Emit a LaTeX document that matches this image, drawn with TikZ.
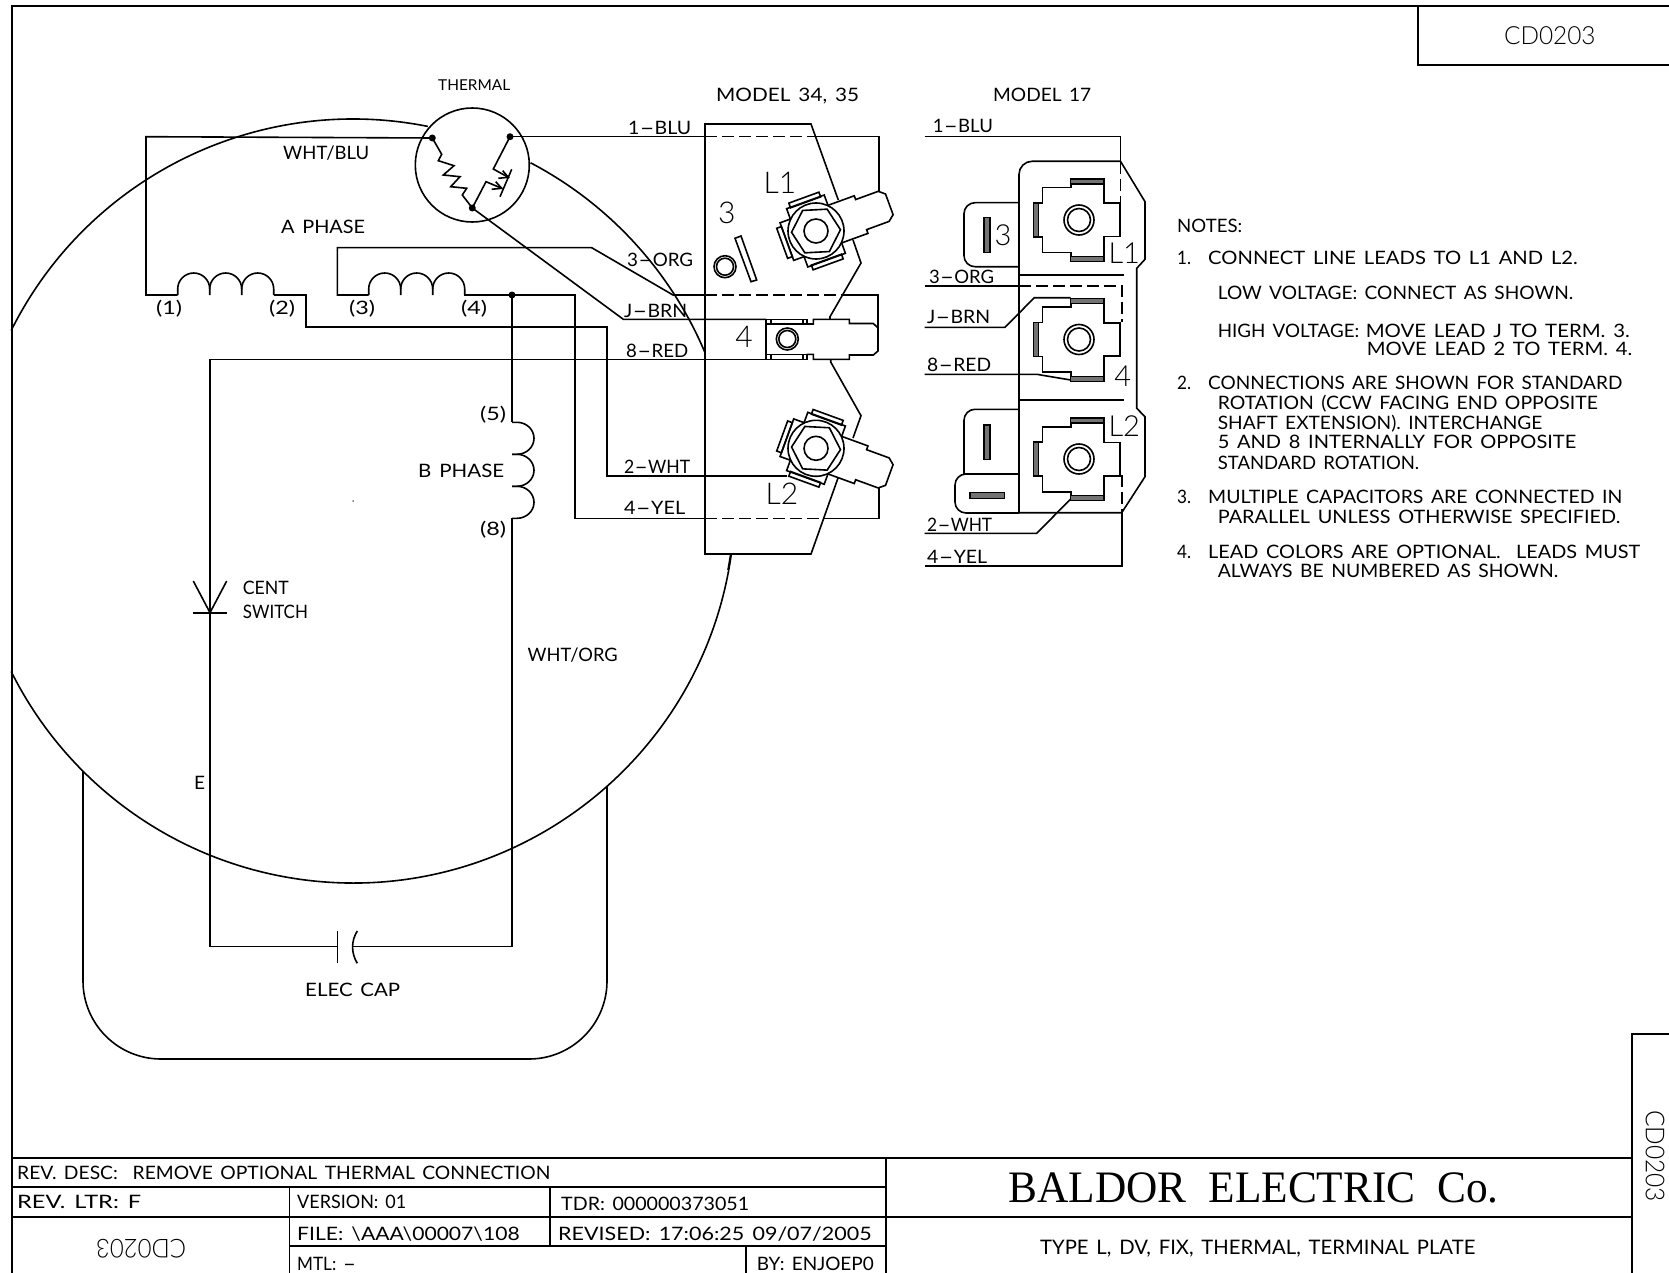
\documentclass[tikz,border=0pt]{standalone}
\usepackage{graphicx}
\usepackage{fontspec}
\setmainfont{Lato}[WordSpace=1.5]
\newfontfamily\lightf{Lato Light}
\newfontfamily\serifttl{Liberation Serif}
\usetikzlibrary{calc}
\newlength\tw
\newcommand\hy{\scalebox{2.1}[1]{-}}
\newcommand\fitw[2]{\settowidth\tw{#2}\pgfmathsetmacro\rr{#1/\tw}\scalebox{\rr}[1]{#2}}
\newcommand\lbl[5]{\node[lb] (#1) at (#2,#3+7.1) {\fitw{#4}{#5}};}
\newcommand\fsA{\fontsize{18.5}{20}\selectfont}
\newcommand\termpin[4]{%
 \begin{scope}[shift={(#1,#2)},rotate=#3]
  \draw[wire] (20,-20)--(48,-20)--(48,-16)--(72,-16)--(78,-11)--(78,11)--(72,16)--(48,16)--(48,20)--(20,20);
  \draw[wire] (20,-20)--(20,-31)--(-20,-31)--(-20,-20)--(-31,-20)--(-31,20)--(-20,20)--(-20,31)--(20,31)--(20,20);
  \draw[wire] (-16,-30.5) rectangle (16,-35.5);
  \draw[wire] (-16,30.5) rectangle (16,35.5);
  \draw[wire] (-31,-16) rectangle (-36,16);
 \end{scope}
 \begin{scope}[shift={(#1,#2)},rotate=#4]
  \draw[wire] (0:24.5)--(60:24.5)--(120:24.5)--(180:24.5)--(240:24.5)--(300:24.5)--cycle;
 \end{scope}
 \draw[wire] (#1,#2) circle[radius=28];
 \draw[wire] (#1,#2) circle[radius=12];
}
\newcommand\clampA[2]{%
 \begin{scope}[shift={(#1,#2)}]
  \draw[wire] (25,-36)--(25,-16.7)--(41,-16.7)--(41,16.7)--(25,16.7)--(25,36.7);
  \draw[wire] (-8.3,36.7)--(-8.3,32.7)--(-36.7,32.7)--(-36.7,17)--(-40.7,17);
  \draw[wire] (-40.7,-17)--(-36.7,-17)--(-36.7,-32.3)--(-8.3,-32.3)--(-8.3,-36);
  \draw[mbar] (-8.3,-41) rectangle (25,-36);
  \draw[mbar] (-8.3,36.7) rectangle (25,41.7);
  \draw[mbar] (-45.7,-17) rectangle (-40.7,17);
  \draw[wire] (0,0) circle[radius=15];
  \draw[wire] (0,0) circle[radius=11.5];
 \end{scope}
}
\tikzset{
 wire/.style={line width=1.6pt,black,line join=miter},
 fr/.style={line width=1.9pt,black},
 dsh/.style={wire,dash pattern=on 12pt off 5pt},
 mbar/.style={line width=1.3pt,draw=black,fill=black!55},
 dot/.style={circle,fill=black,inner sep=0pt,minimum size=7pt},
 lb/.style={anchor=base west,inner sep=0pt,font=\fsA},
 big/.style={inner sep=0pt,font=\lightf\fontsize{30}{30}\selectfont},
 bigm/.style={inner sep=0pt,font=\lightf\fontsize{29}{30}\selectfont},
}
\begin{document}
\begin{tikzpicture}[x=1pt,y=-1pt]
\useasboundingbox (0,0) rectangle (1669,1273);
% frame
\coordinate (fTL) at (12,6);
\draw[fr] (12,1273)--(fTL)--(1669,6);
\draw[fr] (1418,6)--(1418,65)--(1669,65);
\draw[fr] (1632,1273)--(1632,1034)--(1669,1034);
\draw[fr] (12,1158)--(1632,1158);
\draw[fr] (12,1187)--(886,1187);
\draw[fr] (12,1217)--(1632,1217);
\draw[fr] (289.5,1187)--(289.5,1273);
\draw[fr] (550,1187)--(550,1246);
\draw[fr] (289.5,1246)--(886,1246);
\draw[fr] (746,1246)--(746,1273);
\draw[fr] (886,1158)--(886,1273);
% motor circle
\coordinate (C) at (353,501);
\node[circle,fill=black,inner sep=0pt,minimum size=1.5pt] (cen) at (C) {};
\draw[wire] (C) ++(206.5:382) arc[start angle=206.5,end angle=281.3,radius=382];
\draw[wire] (C) ++(-62.3:382) arc[start angle=-62.3,end angle=-22.8,radius=382];
\draw[wire] (C) ++(8:382) arc[start angle=8,end angle=153.5,radius=382];
% capacitor loop
\draw[wire,rounded corners=78pt] (83,771)--(83,1059)--(607,1059)--(607,786);
% thermal
\node[draw,circle,line width=1.6pt,inner sep=0pt,minimum size=114pt] (th) at (472.3,165) {};
\node[dot] (t3) at (432.3,138) {};
\node[dot] (t1) at (510,136.7) {};
\node[dot] (t2) at (472.3,208) {};
\draw[wire] (t3.center)--(441.7,154.3)--(438.3,160.7)--(454,165.7)--(443.3,175)--(460,176.7)--(450.7,186.7)--(466.7,188.3)--(462.3,195)--(t2.center);
\draw[wire] (t2.center)--(486,181.7)--(501.7,188.3);
\draw[wire] (t1.center)--(493.3,169)--(508.3,177.3);
\draw[wire] (511.7,169.3)--(500,196.7);
\draw[wire] (502.7,170.7)--(508.3,177.3)--(498.3,178.3);
\draw[wire] (495.7,181.7)--(501.7,188.3)--(491.7,189.3);
% wires left
\coordinate (n1) at (146,295);
\draw[wire] (t3.center)--(146,136.7)--(n1)--(177.7,295);
\foreach \x/\e in {177.7/273.7,368.7/464.3}{
 \draw[wire] (\x,295)--(\x,289) arc[start angle=180,end angle=360,radius=16]--(\x+32,295);
 \draw[wire] (\x+32,289) arc[start angle=180,end angle=360,radius=16]--(\x+64,295);
 \draw[wire] (\x+64,289) arc[start angle=180,end angle=360,radius=16]--(\x+96,295);
}
\node[dot] (j4) at (512,295) {};
\draw[wire] (273.7,295)--(305.7,295)--(305.7,327)--(607,327)--(607,475.7)--(787,475.7);
\draw[wire] (368.7,295)--(337.3,295)--(337.3,247.7)--(591.7,247.7)--(673,295)--(705,295);
\draw[dsh] (705,295)--(845,295);
\draw[wire] (845,295)--(878,295)--(878,328);
\draw[wire] (464.3,295)--(j4.center)--(575,295)--(575,518.3)--(705,518.3);
\draw[dsh] (705,518.3)--(823,518.3);
\draw[wire] (823,518.3)--(879,518.3)--(879,488);
\draw[wire] (t1.center)--(705,136.7);
\draw[dsh] (705,136.7)--(810,136.7);
\draw[wire] (810,136.7)--(879,136.7)--(879,190.7);
\draw[wire] (t2.center)--(623.3,319.3)--(766,319.3);
\draw[wire] (766,359.3)--(210,359.3)--(210,946.5)--(337.3,946.5);
% B coil
\draw[wire] (j4.center)--(512,422.3);
\foreach \y in {422.3,454.3,486.3}{
 \draw[wire] (512,\y)--(517,\y) arc[start angle=-90,end angle=90,x radius=17,y radius=16]--(512,\y+32);
}
\draw[wire] (512,518.3)--(512,946.5)--(352.5,946.5);
% cap
\draw[wire] (337.3,930.7)--(337.3,963.3);
\draw[wire] (357.3,931) .. controls (351,941) and (351,953) .. (357.3,963.3);
% switch
\draw[wire] (193.3,581)--(210,612.7)--(226.7,581);
\draw[wire] (193.3,612.7)--(226.7,612.7);
% plate 34/35
\draw[wire] (838.3,200)--(811,124)--(705,124)--(705,554)--(811,554)--(838,478);
\draw[wire] (730.7,554)--(728,570);
\draw[wire] (853,240)--(861,263)--(830,316.7)--(830,319.3);
\draw[wire] (830.7,359)--(830.7,362)--(861,415.7)--(853,438);
\termpin{816}{231}{20}{3}
\termpin{816}{448.3}{-20}{-3}
% terminal 4
\draw[wire] (766,319.3)--(766,359.3);
\draw[wire] (766,319.3)--(806.7,319.3)--(806.7,324)--(766,324);
\draw[wire] (766,359.3)--(806.7,359.3)--(806.7,354.3)--(766,354.3);
\draw[wire] (770.7,319.3)--(770.7,324) (802.7,319.3)--(802.7,324) (770.7,354.3)--(770.7,359.3) (802.7,354.3)--(802.7,359.3);
\draw[wire] (806.7,324)--(813.3,324)--(813.3,319.3)--(849.3,319.3)--(849.3,323.5)--(873.3,323.5)--(878,328)--(878,351)--(873.3,355)--(849.3,355)--(849.3,359.3)--(813.3,359.3)--(813.3,354.3)--(806.7,354.3);
\draw[wire] (787.3,339) circle[radius=11];
\draw[wire] (787.3,339) circle[radius=8.5];
\draw[wire] (725,266.7) circle[radius=11];
\draw[wire] (725,266.7) circle[radius=8.5];
\draw[wire] (735,238.3)--(741,236)--(756.7,280)--(751,281.7)--cycle;
% model 17
\draw[wire,rounded corners=13pt] (1019,513)--(1019,161.3)--(1120.5,161.3);
\draw[wire] (1120.5,161.3)--(1145,201.7)--(1145,259.3)--(1136.7,268.3)--(1136.7,408.3)--(1145,416.7)--(1145,476.7)--(1121.7,512.7)--(1019,512.7);
\draw[wire] (924.7,136.7)--(1120.3,136.7)--(1120.3,161.7);
\draw[dsh] (1120.3,161.7)--(1120.3,203.3);
\draw[wire,rounded corners=11pt] (1019,202.7)--(964,202.7)--(964,266.7)--(1019,266.7);
\draw[mbar] (984,217.3) rectangle (990,252.3);
\draw[wire] (1019,275)--(1124,275);
\draw[wire] (924.7,285.7)--(1019,285.7);
\draw[dsh] (1019,285.7)--(1121.7,285.7)--(1121.7,321.7);
\draw[wire] (924.7,327.3)--(1005,327.3)--(1034.3,297.7)--(1070.7,297.7);
\draw[wire] (924.7,374.3)--(1036.7,374.3)--(1070.7,380);
\draw[wire] (1019,400)--(1124,400);
\draw[wire,rounded corners=11pt] (1019,409.3)--(964,409.3)--(964,474);
\draw[wire] (964,474)--(1019,474);
\draw[wire,rounded corners=11pt] (970,474)--(955,474)--(955,513)--(1019,513);
\draw[mbar] (984,425) rectangle (990,459.3);
\draw[mbar] (970,492.3) rectangle (1004.3,498.3);
\draw[wire] (924.7,533.3)--(1036.7,533.3)--(1070.7,499);
\draw[dsh] (1121.7,475)--(1121.7,512.7);
\draw[wire] (1121.7,512.7)--(1121.7,565.7)--(924.7,565.7);
\clampA{1079}{220}
\clampA{1079}{339.5}
\clampA{1079}{459}
% labels
\node[inner sep=0pt,font=\fontsize{15}{16}\selectfont,anchor=base west] (lth) at (438,90.5) {\fitw{72}{THERMAL}};
\lbl{m34}{716}{94.7}{143}{MODEL 34, 35}
\lbl{m17}{993}{94.7}{98}{MODEL 17}
\lbl{a1}{628}{127.5}{63}{1\hy BLU}
\lbl{a2}{627}{259}{66}{3\hy ORG}
\lbl{a3}{624}{310}{63}{J\hy BRN}
\lbl{a4}{626}{350}{62}{8\hy RED}
\lbl{a5}{624}{466}{66}{2\hy WHT}
\lbl{a6}{624}{507.7}{61}{4\hy YEL}
\lbl{b1}{932.7}{125}{60}{1\hy BLU}
\lbl{b2}{929}{276.7}{65}{3\hy ORG}
\lbl{b3}{927}{316.7}{63}{J\hy BRN}
\lbl{b4}{927}{364}{64}{8\hy RED}
\lbl{b5}{927}{524}{65}{2\hy WHT}
\lbl{b6}{927}{556.7}{60}{4\hy YEL}
\lbl{c1}{283}{152}{86}{WHT/BLU}
\lbl{c2}{281}{226.7}{84}{A PHASE}
\lbl{c3}{156}{307.3}{26}{(1)}
\lbl{c4}{269}{307.3}{26}{(2)}
\lbl{c5}{349}{307.3}{26}{(3)}
\lbl{c6}{461}{307.3}{26}{(4)}
\lbl{c7}{480}{413}{26}{(5)}
\lbl{c8}{480}{528}{26}{(8)}
\lbl{c9}{418}{470.5}{86}{B PHASE}
\lbl{c10}{527.5}{654.6}{90}{WHT/ORG}
\lbl{c11}{242.7}{587}{46}{CENT}
\lbl{c12}{242.7}{611.7}{65}{SWITCH}
\lbl{c13}{194}{782}{11}{E}
\lbl{c14}{305}{989}{95}{ELEC CAP}
% plate numbers
\node[big] (l1) at (780,182.7) {L1};
\node[big] (l3) at (726.7,213) {3};
\node[big] (l4) at (744,337) {4};
\node[big] (l2) at (782,494) {L2};
\node[bigm] (m1) at (1003,235.7) {3};
\node[bigm] (m2) at (1124.3,253) {L1};
\node[bigm] (m3) at (1122.7,376) {4};
\node[bigm] (m4) at (1124.3,426) {L2};
% notes
\lbl{n0}{1177}{225.7}{65}{NOTES:}
\lbl{n1a}{1177}{257.6}{14}{1.}
\lbl{n1b}{1208}{257.6}{369.5}{CONNECT LINE LEADS TO L1 AND L2.}
\lbl{n1c}{1217.6}{292.7}{355.4}{LOW VOLTAGE: CONNECT AS SHOWN.}
\lbl{n1d}{1217.6}{330}{141.4}{HIGH VOLTAGE:}
\lbl{n1e}{1365.6}{330}{264}{MOVE LEAD J TO TERM. 3.}
\lbl{n1f}{1366.7}{348}{265.3}{MOVE LEAD 2 TO TERM. 4.}
\lbl{n2a}{1177}{382}{14}{2.}
\lbl{n2b}{1208}{382}{414}{CONNECTIONS ARE SHOWN FOR STANDARD}
\lbl{n2c}{1217.6}{402.3}{380}{ROTATION (CCW FACING END OPPOSITE}
\lbl{n2d}{1217.6}{422.6}{324.4}{SHAFT EXTENSION). INTERCHANGE}
\lbl{n2e}{1217.6}{441.7}{358.4}{5 AND 8 INTERNALLY FOR OPPOSITE}
\lbl{n2f}{1217.6}{462}{201.4}{STANDARD ROTATION.}
\lbl{n3a}{1177}{496}{14}{3.}
\lbl{n3b}{1208}{496}{414}{MULTIPLE CAPACITORS ARE CONNECTED IN}
\lbl{n3c}{1217.6}{516}{402.4}{PARALLEL UNLESS OTHERWISE SPECIFIED.}
\lbl{n4a}{1177}{551}{14}{4.}
\lbl{n4b}{1208}{551}{432}{LEAD COLORS ARE OPTIONAL.\ \ LEADS MUST}
\lbl{n4c}{1217.6}{570.5}{340.4}{ALWAYS BE NUMBERED AS SHOWN.}
% title block
\lbl{r1}{17}{1172.7}{533}{REV. DESC:\ \ REMOVE OPTIONAL THERMAL CONNECTION}
\lbl{r2}{17}{1201.7}{124}{REV. LTR:\ F}
\lbl{r3}{297}{1201.7}{109}{VERSION: 01}
\lbl{r4}{561}{1203}{188}{TDR: 000000373051}
\lbl{r5}{297}{1233}{222.5}{FILE: \textbackslash AAA\textbackslash 00007\textbackslash 108}
\lbl{r6}{558}{1233}{313.5}{REVISED: 17:06:25 09/07/2005}
\lbl{r7}{297}{1263}{59}{MTL: \hy}
\lbl{r8}{756.6}{1263}{117}{BY: ENJOEP0}
\node[inner sep=0pt,anchor=base west,font=\serifttl\fontsize{45}{46}\selectfont] (ttl) at (1008.5,1202) {\fitw{490}{BALDOR\ \ ELECTRIC\ \ Co.}};
\node[inner sep=0pt,anchor=base west,font=\fontsize{20}{22}\selectfont] (ttl2) at (1040,1254.5) {\fitw{435}{TYPE L, DV, FIX, THERMAL, TERMINAL PLATE}};
\node[inner sep=0pt,font=\lightf\fontsize{25}{26}\selectfont] (id1) at (1549.8,36) {\fitw{91.6}{CD0203}};
\node[inner sep=0pt,font=\lightf\fontsize{26}{26}\selectfont,rotate=-90] (id2) at (1655,1156) {\fitw{92}{CD0203}};
\node[inner sep=0pt,font=\lightf\fontsize{26}{26}\selectfont,rotate=180] (id3) at (141,1249) {\fitw{90}{CD0203}};
\end{tikzpicture}
\end{document}
